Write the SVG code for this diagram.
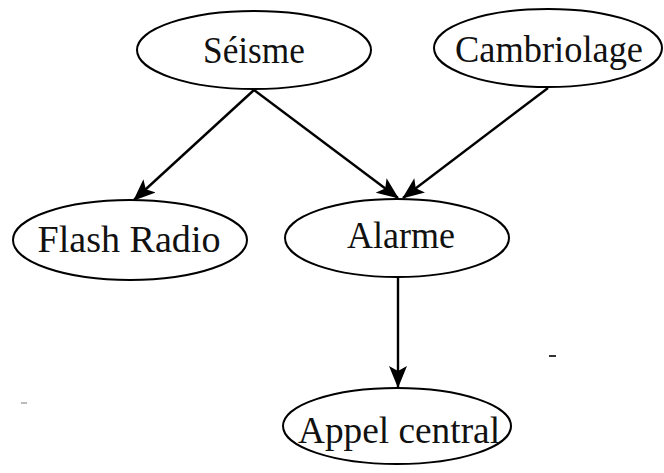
<svg xmlns="http://www.w3.org/2000/svg" width="664" height="473" viewBox="0 0 664 473">
<style>
.node ellipse{fill:#fff;stroke:#000;stroke-width:2}
.node text{font-family:"Liberation Serif","DejaVu Serif",serif;font-size:37px;fill:#111;text-anchor:middle}
.edge{stroke:#000;stroke-width:2.4;fill:none;marker-end:url(#ah)}
</style>
<defs>
<marker id="ah" markerUnits="userSpaceOnUse" markerWidth="22" markerHeight="18" viewBox="0 0 22 18" refX="21" refY="9" orient="auto">
<path d="M0,0 L22,9 L0,18 L5,9 Z" fill="#000"/>
</marker>
</defs>
<rect width="664" height="473" fill="#fff"/>
<g id="connectors">
<line class="edge" x1="254" y1="90" x2="134" y2="200"/>
<line class="edge" x1="254" y1="90" x2="398" y2="198"/>
<line class="edge" x1="548" y1="88" x2="403" y2="198"/>
<line class="edge" x1="398" y1="278" x2="398" y2="387"/>
</g>
<g id="seisme" class="node"><ellipse cx="254" cy="50" rx="117" ry="39"/><text x="254" y="63" textLength="102" lengthAdjust="spacingAndGlyphs">Séisme</text></g>
<g id="cambriolage" class="node"><ellipse cx="548" cy="48" rx="114" ry="39"/><text x="549" y="62" textLength="188" lengthAdjust="spacingAndGlyphs">Cambriolage</text></g>
<g id="flash-radio" class="node"><ellipse cx="130" cy="240" rx="117" ry="40"/><text x="129" y="252" textLength="183" lengthAdjust="spacingAndGlyphs">Flash Radio</text></g>
<g id="alarme" class="node"><ellipse cx="397" cy="238" rx="112" ry="39"/><text x="401" y="248" textLength="108" lengthAdjust="spacingAndGlyphs">Alarme</text></g>
<g id="appel-central" class="node"><ellipse cx="397" cy="426" rx="114" ry="38"/><text x="399" y="443" textLength="202" lengthAdjust="spacingAndGlyphs">Appel central</text></g>
<line x1="549" y1="356" x2="556" y2="356" stroke="#333" stroke-width="2"/>
<line x1="21" y1="403" x2="27" y2="403" stroke="#bbb" stroke-width="2"/>
</svg>
